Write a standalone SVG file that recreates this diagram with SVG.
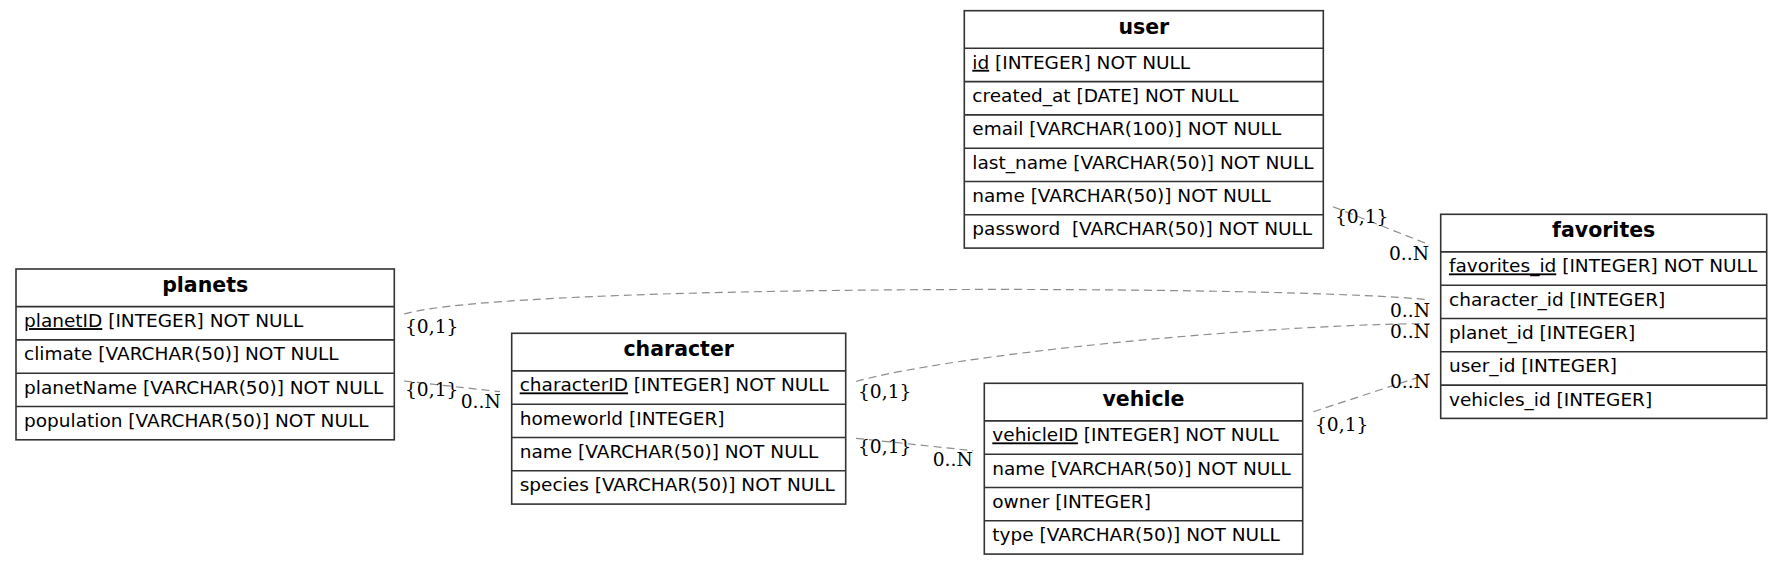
<svg xmlns="http://www.w3.org/2000/svg" width="1783" height="565" viewBox="0 0 1783 565">
<style>
.box{fill:#fff;stroke:#333;stroke-width:1.6}
.sep{stroke:#333;stroke-width:1.6}
.t{font-family:"DejaVu Sans",sans-serif;font-size:20.5px;font-weight:bold;text-anchor:middle;fill:#000}
.f{font-family:"DejaVu Sans",sans-serif;font-size:18.5px;fill:#000;white-space:pre}
.l{font-family:"DejaVu Serif",serif;font-size:18.67px;fill:#000}
.c{fill:none;stroke:#8c8c8c;stroke-width:1.2;stroke-dasharray:8,5}
</style>
<rect width="1783" height="565" fill="#fff"/>
<g id="connectors">
<path class="c" d="M1333,206.7 L1430,245"/>
<path class="c" d="M404,314 C510,283 1300,285 1430,300"/>
<path class="c" d="M404,381 L500,391.7"/>
<path class="c" d="M856,381.5 C950,355 1250,325 1430,323.5"/>
<path class="c" d="M856,438.3 L973.3,450.7"/>
<path class="c" d="M1313.3,411.7 L1430,373.5"/>
<text class="l" x="1335" y="223">{0,1}</text>
<text class="l" x="1389" y="260">0..N</text>
<text class="l" x="405" y="333">{0,1}</text>
<text class="l" x="1390" y="316.7">0..N</text>
<text class="l" x="405" y="396">{0,1}</text>
<text class="l" x="460.7" y="408">0..N</text>
<text class="l" x="858" y="397.5">{0,1}</text>
<text class="l" x="1390" y="337.8">0..N</text>
<text class="l" x="858" y="453.3">{0,1}</text>
<text class="l" x="932.7" y="465.5">0..N</text>
<text class="l" x="1315" y="430.5">{0,1}</text>
<text class="l" x="1390" y="388">0..N</text>
</g>
<g id="user">
<rect class="box" x="964.3" y="10.7" width="359" height="237.4"/>
<path class="sep" d="M964.3,48.3H1323.3M964.3,81.6H1323.3M964.3,114.9H1323.3M964.3,148.2H1323.3M964.3,181.5H1323.3M964.3,214.8H1323.3"/>
<text class="t" x="1143.8" y="33.7">user</text>
<text class="f" x="972.3" y="68.8"><tspan text-decoration="underline">id</tspan> [INTEGER] NOT NULL</text>
<text class="f" x="972.3" y="102.1">created_at [DATE] NOT NULL</text>
<text class="f" x="972.3" y="135.4">email [VARCHAR(100)] NOT NULL</text>
<text class="f" x="972.3" y="168.7">last_name [VARCHAR(50)] NOT NULL</text>
<text class="f" x="972.3" y="202">name [VARCHAR(50)] NOT NULL</text>
<text class="f" x="972.3" y="235.3">password  [VARCHAR(50)] NOT NULL</text>
</g>
<g id="favorites">
<rect class="box" x="1440.7" y="214.3" width="326" height="204.1"/>
<path class="sep" d="M1440.7,251.9H1766.7M1440.7,285.2H1766.7M1440.7,318.5H1766.7M1440.7,351.8H1766.7M1440.7,385.1H1766.7"/>
<text class="t" x="1603.7" y="237.3">favorites</text>
<text class="f" x="1449" y="272.4"><tspan text-decoration="underline">favorites_id</tspan> [INTEGER] NOT NULL</text>
<text class="f" x="1449" y="305.7">character_id [INTEGER]</text>
<text class="f" x="1449" y="339">planet_id [INTEGER]</text>
<text class="f" x="1449" y="372.3">user_id [INTEGER]</text>
<text class="f" x="1449" y="405.6">vehicles_id [INTEGER]</text>
</g>
<g id="planets">
<rect class="box" x="16" y="269" width="378.3" height="170.8"/>
<path class="sep" d="M16,306.6H394.3M16,339.9H394.3M16,373.2H394.3M16,406.5H394.3"/>
<text class="t" x="205.2" y="292">planets</text>
<text class="f" x="24" y="327.1"><tspan text-decoration="underline">planetID</tspan> [INTEGER] NOT NULL</text>
<text class="f" x="24" y="360.4">climate [VARCHAR(50)] NOT NULL</text>
<text class="f" x="24" y="393.7">planetName [VARCHAR(50)] NOT NULL</text>
<text class="f" x="24" y="427">population [VARCHAR(50)] NOT NULL</text>
</g>
<g id="character">
<rect class="box" x="511.7" y="333.3" width="334" height="170.8"/>
<path class="sep" d="M511.7,370.9H845.7M511.7,404.2H845.7M511.7,437.5H845.7M511.7,470.8H845.7"/>
<text class="t" x="678.7" y="356.3">character</text>
<text class="f" x="519.7" y="391.4"><tspan text-decoration="underline">characterID</tspan> [INTEGER] NOT NULL</text>
<text class="f" x="519.7" y="424.7">homeworld [INTEGER]</text>
<text class="f" x="519.7" y="458">name [VARCHAR(50)] NOT NULL</text>
<text class="f" x="519.7" y="491.3">species [VARCHAR(50)] NOT NULL</text>
</g>
<g id="vehicle">
<rect class="box" x="984.3" y="383.3" width="318.4" height="170.8"/>
<path class="sep" d="M984.3,420.9H1302.7M984.3,454.2H1302.7M984.3,487.5H1302.7M984.3,520.8H1302.7"/>
<text class="t" x="1143.5" y="406.3">vehicle</text>
<text class="f" x="992.3" y="441.4"><tspan text-decoration="underline">vehicleID</tspan> [INTEGER] NOT NULL</text>
<text class="f" x="992.3" y="474.7">name [VARCHAR(50)] NOT NULL</text>
<text class="f" x="992.3" y="508">owner [INTEGER]</text>
<text class="f" x="992.3" y="541.3">type [VARCHAR(50)] NOT NULL</text>
</g>
</svg>
